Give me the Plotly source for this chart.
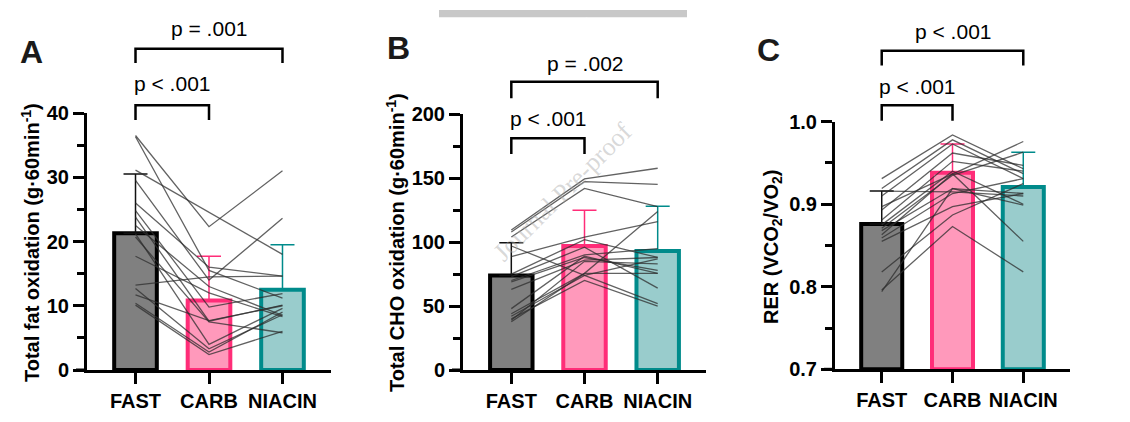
import plotly.graph_objects as go

W, H = 1130, 422
OFF = 8  # the page puts the figure 8px in from the top-left corner

conditions = ["FAST", "CARB", "NIACIN"]
bar_fill = ["#808080", "#ff99bb", "#99cccc"]
bar_edge = ["#000000", "#ff2d78", "#008b8b"]

# panel A - total fat oxidation (g.60min-1)
fat_mean = [21.3, 10.8, 12.5]
fat_sd = [9.2, 6.9, 7.0]
fat_fast = [36.5, 36.3, 31.1, 29.5, 26.0, 24.8, 23.8, 22.5, 21.2, 20.7, 17.7, 13.2, 12.7, 11.7, 10.4, 10.1]
fat_carb = [22.3, 15.5, 24.5, 14.0, 16.0, 9.8, 7.6, 13.0, 4.0, 7.5, 12.0, 14.5, 3.3, 7.7, 2.8, 2.4]
fat_niacin = [31.0, 11.2, 18.0, 23.6, 14.6, 11.9, 10.1, 8.5, 9.6, 5.8, 8.3, 14.6, 8.6, 10.0, 9.0, 6.0]

# panel B - total CHO oxidation (g.60min-1)
cho_mean = [74, 97, 93]
cho_sd = [25.5, 28, 35]
cho_fast = [109.5, 108.0, 104.0, 88.7, 97.0, 75.0, 73.0, 70.0, 69.0, 63.0, 48.0, 44.0, 42.0, 40.0, 39.0, 37.8]
cho_carb = [149.5, 147.3, 142.0, 104.0, 74.0, 102.0, 96.0, 90.0, 88.0, 86.0, 89.0, 75.6, 74.0, 70.0, 85.0, 75.6]
cho_niacin = [157.8, 145.2, 127.8, 116.0, 52.0, 88.0, 64.0, 95.0, 78.0, 88.0, 75.6, 123.9, 87.0, 50.0, 83.0, 75.6]

# panel C - RER (VCO2/VO2)
rer_mean = [0.876, 0.938, 0.921]
rer_sd = [0.040, 0.035, 0.042]
rer_fast = [0.931, 0.919, 0.910, 0.897, 0.893, 0.881, 0.875, 0.871, 0.868, 0.863, 0.859, 0.855, 0.916, 0.818, 0.796, 0.794]
rer_carb = [0.984, 0.978, 0.973, 0.937, 0.962, 0.952, 0.940, 0.935, 0.919, 0.937, 0.913, 0.897, 0.915, 0.887, 0.873, 0.919]
rer_niacin = [0.943, 0.937, 0.931, 0.976, 0.947, 0.940, 0.900, 0.963, 0.913, 0.855, 0.931, 0.913, 0.910, 0.925, 0.818, 0.899]


def px(x):
    return (x - OFF) / W


def py(y):
    return 1 - (y - OFF) / H


panels = [
    dict(letter="A", title="Total fat oxidation (g·60min<sup>-1</sup>)",
         mean=fat_mean, sd=fat_sd, subj=(fat_fast, fat_carb, fat_niacin),
         xdom=[px(87), px(331)], ydom=[py(370), py(113)],
         yrange=[0, 40], ticks=[0, 10, 20, 30, 40], minor=[5, 15, 25, 35],
         ticktext=["0", "10", "20", "30", "40"],
         brackets=[(1, 41.2, 38.9, 44.6, "p < .001"), (2, 50.0, 47.8, 53.2, "p = .001")],
         letter_xy=(31, 52), title_xy=(30, 243)),
    dict(letter="B", title="Total CHO oxidation (g·60min<sup>-1</sup>)",
         mean=cho_mean, sd=cho_sd, subj=(cho_fast, cho_carb, cho_niacin),
         xdom=[px(463), px(706)], ydom=[py(370), py(114.3)],
         yrange=[0, 200], ticks=[0, 50, 100, 150, 200], minor=[25, 75, 125, 175],
         ticktext=["0", "50", "100", "150", "200"],
         brackets=[(1, 181.2, 169.0, 197.0, "p < .001"), (2, 225.5, 212.5, 240.0, "p = .002")],
         letter_xy=(398, 48), title_xy=(395, 243)),
    dict(letter="C", title="RER (VCO<sub>2</sub>/VO<sub>2</sub>)",
         mean=rer_mean, sd=rer_sd, subj=(rer_fast, rer_carb, rer_niacin),
         xdom=[px(835), px(1070)], ydom=[py(369.3), py(121.7)],
         yrange=[0.7, 1.0], ticks=[0.7, 0.8, 0.9, 1.0], minor=[0.75, 0.85, 0.95],
         ticktext=["0.7", "0.8", "0.9", "1.0"],
         brackets=[(1, 1.020, 1.001, 1.043, "p < .001"), (2, 1.086, 1.068, 1.109, "p < .001")],
         letter_xy=(768, 50), title_xy=(772, 247)),
]

FONT = "Liberation Sans"


def to_paper(v, dom, rng):
    return dom[0] + (v - rng[0]) / (rng[1] - rng[0]) * (dom[1] - dom[0])


fig = go.Figure()
shapes = []
annotations = []

for i, p in enumerate(panels):
    sfx = "" if i == 0 else str(i + 1)
    xa, ya = "x" + sfx, "y" + sfx
    floor = p["yrange"][0]

    for k, c in enumerate(conditions):
        fig.add_trace(go.Bar(
            x=[c], y=[p["mean"][k] - floor], base=floor, width=0.58,
            marker=dict(color=bar_fill[k], line=dict(color=bar_edge[k], width=4)),
            error_y=dict(type="data", symmetric=False, array=[p["sd"][k]], arrayminus=[0],
                         color=bar_edge[k] if k else "#111111", thickness=1.5, width=12),
            xaxis=xa, yaxis=ya, showlegend=False))

    f, cb, n = p["subj"]
    for j in range(len(f)):
        fig.add_trace(go.Scatter(
            x=conditions, y=[f[j], cb[j], n[j]], mode="lines",
            line=dict(color="rgba(45,45,45,0.75)", width=1.3),
            xaxis=xa, yaxis=ya, showlegend=False, hoverinfo="skip"))

    fig.layout["xaxis" + sfx] = dict(
        domain=p["xdom"], anchor=ya, type="category", categoryorder="array",
        categoryarray=conditions, range=[-0.66, 2.66], automargin=False,
        showline=True, linecolor="black", linewidth=3,
        ticks="outside", ticklen=11, tickwidth=2.5, tickcolor="black",
        tickfont=dict(family=FONT, size=20, color="black", weight="bold"),
        showgrid=False, zeroline=False, fixedrange=True)
    fig.layout["yaxis" + sfx] = dict(
        domain=p["ydom"], anchor=xa, range=p["yrange"], automargin=False,
        tickmode="array", tickvals=p["ticks"], ticktext=p["ticktext"],
        showline=True, linecolor="black", linewidth=3,
        ticks="outside", ticklen=11, tickwidth=2.5, tickcolor="black",
        minor=dict(tickmode="array", tickvals=p["minor"], ticks="outside",
                   ticklen=7, tickwidth=2.5, tickcolor="black"),
        tickfont=dict(family=FONT, size=20, color="black", weight="bold"),
        showgrid=False, zeroline=False, fixedrange=True)

    # x axis line runs out to the end of the y ticks (prism style)
    x_left = p["xdom"][0]
    shapes.append(dict(type="line", xref="paper", yref="paper",
                       x0=x_left - 11 / W, x1=x_left, y0=p["ydom"][0], y1=p["ydom"][0],
                       line=dict(color="black", width=3)))

    # significance brackets
    for right, top, leg, txt_y, txt in p["brackets"]:
        yt = to_paper(top, p["ydom"], p["yrange"])
        yl = to_paper(leg, p["ydom"], p["yrange"])
        shapes.append(dict(
            type="path", xref=xa, yref="paper",
            path=f"M 0,{yl} L 0,{yt} L {right},{yt} L {right},{yl}",
            line=dict(color="black", width=2.5)))
        annotations.append(dict(
            x=right / 2, y=to_paper(txt_y, p["ydom"], p["yrange"]), xref=xa, yref="paper",
            text=txt, showarrow=False, xanchor="center", yanchor="middle",
            font=dict(family=FONT, size=21, color="black")))

    lx, ly = p["letter_xy"]
    annotations.append(dict(
        x=px(lx), y=py(ly), xref="paper", yref="paper", text=p["letter"],
        showarrow=False, xanchor="center", yanchor="middle",
        font=dict(family=FONT, size=32, color="#1a1a1a", weight="bold")))
    tx, ty = p["title_xy"]
    annotations.append(dict(
        x=px(tx), y=py(ty), xref="paper", yref="paper", text=p["title"],
        textangle=-90, showarrow=False, xanchor="center", yanchor="middle",
        font=dict(family=FONT, size=20, color="black", weight="bold")))

# journal banner + watermark
shapes.append(dict(type="rect", xref="paper", yref="paper",
                   x0=px(439), x1=px(687), y0=py(17.3), y1=py(10),
                   fillcolor="#c8c8c8", line=dict(width=0), layer="below"))
annotations.append(dict(x=px(563), y=py(13.7), xref="paper", yref="paper",
                        text="Journal Pre-proof", showarrow=False,
                        font=dict(family="Liberation Serif", size=7, color="white")))
annotations.append(dict(x=px(562), y=py(192), xref="paper", yref="paper",
                        text="Journal Pre-proof", showarrow=False, textangle=-45,
                        font=dict(family="Liberation Serif", size=26,
                                  color="rgba(170,170,170,0.45)")))

fig.update_layout(
    width=W, height=H, margin=dict(l=0, r=0, t=0, b=0, pad=0, autoexpand=False),
    paper_bgcolor="white", plot_bgcolor="rgba(0,0,0,0)",
    barmode="overlay", shapes=shapes, annotations=annotations,
    font=dict(family=FONT, color="black"))

fig.write_html("out.html")
